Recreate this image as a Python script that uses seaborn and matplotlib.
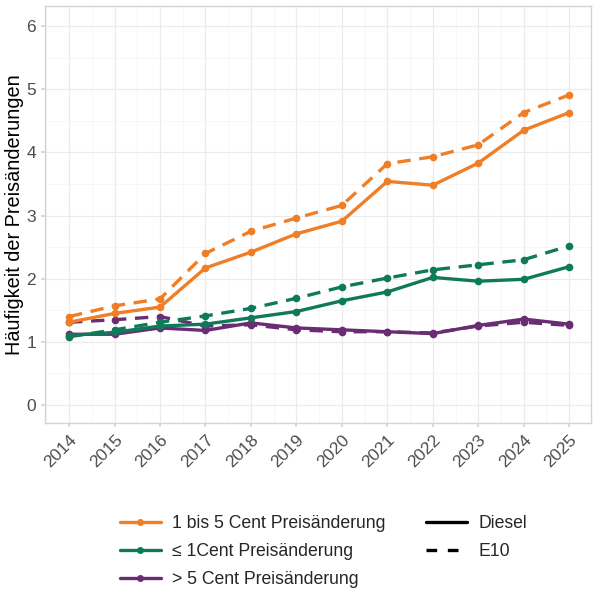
import matplotlib
matplotlib.use("Agg")
import matplotlib.pyplot as plt
from matplotlib.lines import Line2D
from matplotlib.ticker import MultipleLocator
import pandas as pd
import seaborn as sns

# data
years = list(range(2014, 2026))
categories = ["1 bis 5 Cent Preisänderung", "≤ 1Cent Preisänderung", "> 5 Cent Preisänderung"]
fuels = ["Diesel", "E10"]

mid_diesel = [1.31, 1.45, 1.55, 2.17, 2.42, 2.71, 2.91, 3.54, 3.48, 3.83, 4.35, 4.63]
mid_e10 = [1.40, 1.57, 1.68, 2.40, 2.75, 2.96, 3.16, 3.82, 3.93, 4.12, 4.63, 4.91]
small_diesel = [1.10, 1.15, 1.25, 1.28, 1.38, 1.48, 1.65, 1.79, 2.02, 1.96, 1.99, 2.19]
small_e10 = [1.08, 1.19, 1.31, 1.41, 1.53, 1.69, 1.87, 2.01, 2.14, 2.22, 2.30, 2.52]
big_diesel = [1.12, 1.12, 1.22, 1.18, 1.30, 1.22, 1.19, 1.16, 1.13, 1.26, 1.36, 1.28]
big_e10 = [1.31, 1.35, 1.40, 1.25, 1.27, 1.19, 1.16, 1.16, 1.14, 1.25, 1.31, 1.26]

colors = ["#F07E26", "#0F7A5A", "#6A2C72"]

series = {
    (categories[0], "Diesel"): mid_diesel,
    (categories[0], "E10"): mid_e10,
    (categories[1], "Diesel"): small_diesel,
    (categories[1], "E10"): small_e10,
    (categories[2], "Diesel"): big_diesel,
    (categories[2], "E10"): big_e10,
}

rows = []
for (cat, fuel), vals in series.items():
    for y, v in zip(years, vals):
        rows.append({"Jahr": y, "Wert": v, "Kategorie": cat, "Kraftstoff": fuel})
df = pd.DataFrame(rows)

sns.set_theme(style="white")
plt.rcParams["font.family"] = ["Liberation Sans", "DejaVu Sans"]

LW = 2.4
DASH = (4, 2.6)

fig = plt.figure(figsize=(6, 6), dpi=100)
ax = fig.add_axes([0.075, 0.295, 0.91, 0.695])

# purple first, so the other lines sit on top
order = [categories[2], categories[1], categories[0]]
for cat in order:
    sub = df[df["Kategorie"] == cat]
    sns.lineplot(data=sub, x="Jahr", y="Wert", style="Kraftstoff",
                 style_order=fuels, dashes={"Diesel": "", "E10": DASH},
                 color=colors[categories.index(cat)], marker="o",
                 markersize=5.5, markeredgewidth=0, linewidth=LW,
                 legend=False, ax=ax)

ax.set_xlim(2013.47, 2025.48)
ax.set_ylim(-0.285, 6.317)
ax.set_xticks(years)
ax.set_xticklabels([str(y) for y in years], rotation=45, ha="right",
                   rotation_mode="anchor")
ax.yaxis.set_major_locator(MultipleLocator(1))
ax.yaxis.set_minor_locator(MultipleLocator(0.5))
ax.xaxis.set_minor_locator(MultipleLocator(0.5))
ax.grid(which="major", color="#EBEBEB", linewidth=0.9)
ax.grid(which="minor", color="#F5F5F5", linewidth=0.6)
ax.set_axisbelow(True)
for s in ax.spines.values():
    s.set_color("#D4D4D4")
    s.set_linewidth(1.0)
ax.tick_params(axis="both", which="major", labelsize=12.5, labelcolor="#4D4D4D",
               length=3, color="#D4D4D4", bottom=True, left=True)
ax.tick_params(which="minor", length=0)
ax.set_xlabel("")
ax.set_ylabel("Häufigkeit der Preisänderungen", fontsize=14.3, color="black",
              labelpad=1.5)

leg_kw = dict(loc="upper left", frameon=False, fontsize=12.7,
              handlelength=2.3, labelspacing=0.62, handletextpad=0.65,
              borderaxespad=0, borderpad=0)
color_handles = [Line2D([], [], color=c, linewidth=LW, marker="o", markersize=4)
                 for c in colors]
fig.legend(color_handles, categories, bbox_to_anchor=(0.2, 0.141), **leg_kw)
type_handles = [Line2D([], [], color="black", linewidth=LW, linestyle="-"),
                Line2D([], [], color="black", linewidth=LW,
                       linestyle=(0, (3.2, 3.2)))]
fig.legend(type_handles, fuels, bbox_to_anchor=(0.71, 0.141), **leg_kw)

fig.savefig("out.png", dpi=100)
